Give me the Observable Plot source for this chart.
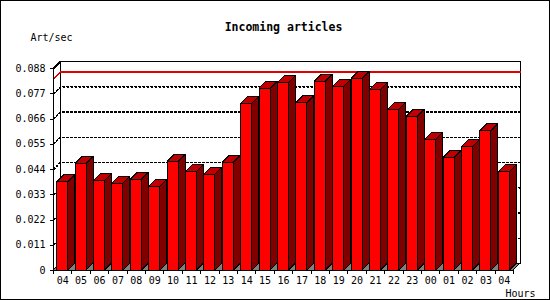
<!DOCTYPE html>
<html>
<head>
<meta charset="utf-8">
<script src="https://cdn.jsdelivr.net/npm/d3@7"></script>
<script src="https://cdn.jsdelivr.net/npm/@observablehq/plot@0.6"></script>
<style>
  html, body { margin: 0; padding: 0; background: white; }
</style>
</head>
<body>
<div id="chart"></div>
<script>
// ---- data ----
const hours = ["04","05","06","07","08","09","10","11","12","13","14","15","16","17","18","19","20","21","22","23","00","01","02","03","04"];
const rate = [0.0385, 0.0465, 0.0391, 0.0378, 0.0395, 0.0364, 0.0473, 0.0430, 0.0417, 0.0469,
              0.0726, 0.0792, 0.0818, 0.0730, 0.0822, 0.0800, 0.0835, 0.0787, 0.0700, 0.0670,
              0.0569, 0.0491, 0.0539, 0.0608, 0.0428];
const yTicks = [0, 0.011, 0.022, 0.033, 0.044, 0.055, 0.066, 0.077, 0.088];
const title = "Incoming articles";
const yLabel = "Art/sec";
const xLabel = "Hours";

// ---- layout ----
const W = 550, H = 300, ML = 53, MR = 37, MT = 68, MB = 30, DEPTH = 7;
const n = hours.length;
const yMax = yTicks[yTicks.length - 1];
const ux = DEPTH / ((W - ML - MR) / n);          // depth in x data units
const uy = DEPTH * yMax / (H - MT - MB);          // depth in y data units
const inset = 0.2;                                // bar inset within slot
const maxVal = d3.max(rate);

const bars = rate.map((v, i) => ({i, v, label: hours[i]}));

// side faces (vertical edges)
const sides = bars.flatMap(d => [
  {i: d.i, x: d.i + 1 - inset, y1: 0, y2: d.v},
  {i: d.i, x: d.i + 1 - inset + ux, y1: uy, y2: d.v + uy}
]);
// top faces (horizontal edges)
const tops = bars.flatMap(d => [
  {i: d.i, y: d.v, x1: d.i + inset, x2: d.i + 1 - inset},
  {i: d.i, y: d.v + uy, x1: d.i + inset + ux, x2: d.i + 1 - inset + ux}
]);
// floor
const floor = [{y: 0, x1: 0, x2: n}, {y: uy, x1: ux, x2: n + ux}];
// grid lines (front axis -> back wall)
const grid = yTicks.slice(1, -1).flatMap(t => [
  {t, x: 0, y: t}, {t, x: ux, y: t + uy}, {t, x: n + ux, y: t + uy}
]);
const maxLine = [{x: 0, y: maxVal}, {x: ux, y: maxVal + uy}, {x: n + ux, y: maxVal + uy}];
const topDiag = [{x: 0, y: yMax}, {x: ux, y: yMax + uy}];

const font = "'DejaVu Sans Mono', 'Liberation Mono', monospace";

const chart = Plot.plot({
  width: W, height: H,
  marginLeft: ML, marginRight: MR, marginTop: MT, marginBottom: MB,
  style: {fontFamily: font, fontSize: "10px", background: "white", color: "black", overflow: "visible"},
  x: {type: "linear", domain: [0, n], axis: null},
  y: {domain: [0, yMax], axis: null},
  marks: [
    // back wall
    Plot.rect([0], {x1: ux, x2: n + ux, y1: uy, y2: yMax + uy, fill: "white", stroke: "black"}),
    // floor
    Plot.areaX(floor, {y: "y", x1: "x1", x2: "x2", fill: "#808080", stroke: "black", strokeWidth: 1}),
    // grid
    Plot.line(grid, {x: "x", y: "y", z: "t", stroke: "black", strokeDasharray: "2,2"}),
    // max line
    Plot.line(maxLine, {x: "x", y: "y", stroke: "#e00000"}),
    Plot.line(topDiag, {x: "x", y: "y", stroke: "black"}),
    // y axis
    Plot.axisY({ticks: yTicks, tickSize: 3, tickPadding: 5,
      tickFormat: d => d === 0 ? "0" : d.toFixed(3), fontSize: 10}),
    Plot.ruleX([0], {y1: 0, y2: yMax, stroke: "black"}),
    // bars: front
    Plot.rect(bars, {x1: d => d.i + inset, x2: d => d.i + 1 - inset, y1: 0, y2: "v",
      fill: "#ff0000", stroke: "black"}),
    // bars: side
    Plot.areaY(sides, {x: "x", y1: "y1", y2: "y2", z: "i", fill: "#800000", stroke: "black"}),
    // bars: top
    Plot.areaX(tops, {y: "y", x1: "x1", x2: "x2", z: "i", fill: "#c00000", stroke: "black"}),
    // x axis
    Plot.ruleY([0], {x1: 0, x2: n, stroke: "black"}),
    Plot.axisX({ticks: d3.range(n + 1), tickSize: 4, tickFormat: () => ""}),
    Plot.text(bars, {x: d => d.i + 0.5, y: 0, text: "label", dy: 10.5, fontSize: 10, lineAnchor: "middle"}),
    // titles
    Plot.text([title], {frameAnchor: "top", lineAnchor: "middle", dy: 27 - MT, fontWeight: "bold", fontSize: 11.5}),
    Plot.text([yLabel], {frameAnchor: "top-left", lineAnchor: "middle", textAnchor: "start", dx: 30 - ML, dy: 37 - MT, fontSize: 10}),
    Plot.text([xLabel], {frameAnchor: "bottom-right", lineAnchor: "middle", textAnchor: "start", dx: 505 - (W - MR), dy: 293 - (H - MB), fontSize: 10})
  ]
});

d3.select(chart).attr("shape-rendering", "crispEdges");
d3.select(chart).append("rect")
  .attr("x", 0.5).attr("y", 0.5).attr("width", W - 1).attr("height", H - 1)
  .attr("fill", "none").attr("stroke", "black");

document.getElementById("chart").appendChild(chart);
</script>
</body>
</html>
